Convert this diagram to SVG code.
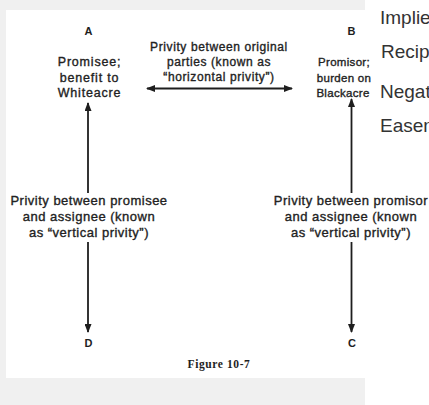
<svg xmlns="http://www.w3.org/2000/svg" width="429" height="405" viewBox="0 0 429 405">
  <style>
    .lbl { font-family: "Liberation Sans", Arial, Helvetica, sans-serif; fill: #222222; stroke: #222222; stroke-width: 0.35; text-anchor: middle; }
    .big { font-size: 12.5px; letter-spacing: 0.8px; }
    .mid { font-size: 12px; letter-spacing: 0.6px; }
    .vert { font-size: 13px; letter-spacing: 0.5px; }
    .small { font-size: 11.5px; letter-spacing: 0.3px; }
    .letter { font-family: "Liberation Sans", Arial, sans-serif; font-weight: bold; font-size: 11px; fill: #1e1e1e; text-anchor: middle; }
    .cap { font-family: "Liberation Serif", "Times New Roman", serif; font-weight: bold; font-size: 11.5px; letter-spacing: 0.6px; fill: #1e1e1e; text-anchor: middle; }
    .conn { stroke: #1e1e1e; stroke-width: 1.8; fill: none; }
    .side { font-family: "Liberation Sans", Arial, Helvetica, sans-serif; font-size: 19px; fill: #333333; }
  </style>
  <defs>
    <marker id="ah" markerUnits="userSpaceOnUse" markerWidth="9" markerHeight="7" refX="8" refY="3.5" orient="auto-start-reverse">
      <path d="M0,0 L9,3.5 L0,7 z" fill="#1e1e1e"/>
    </marker>
  </defs>

  <rect x="0" y="0" width="365" height="405" fill="#f0f0f0"/>
  <rect x="6" y="10" width="359" height="368" fill="#ffffff"/>

  <g id="connectors">
    <line class="conn" x1="147" y1="88.5" x2="292" y2="88.5" marker-start="url(#ah)" marker-end="url(#ah)"/>
    <line class="conn" x1="88" y1="193" x2="88" y2="103" marker-end="url(#ah)"/>
    <line class="conn" x1="88" y1="242" x2="88" y2="332" marker-end="url(#ah)"/>
    <line class="conn" x1="351.5" y1="193" x2="351.5" y2="99" marker-end="url(#ah)"/>
    <line class="conn" x1="351.5" y1="242" x2="351.5" y2="332" marker-end="url(#ah)"/>
    <text class="lbl mid" x="219" y="51">Privity between original</text>
    <text class="lbl mid" x="219" y="66">parties (known as</text>
    <text class="lbl mid" x="219" y="81">“horizontal privity”)</text>
    <text class="lbl vert" x="89" y="204.5">Privity between promisee</text>
    <text class="lbl vert" x="89" y="221">and assignee (known</text>
    <text class="lbl vert" x="89" y="237">as “vertical privity”)</text>
    <text class="lbl vert" x="351" y="204.5">Privity between promisor</text>
    <text class="lbl vert" x="351" y="221">and assignee (known</text>
    <text class="lbl vert" x="351" y="237">as “vertical privity”)</text>
  </g>

  <g id="node-A">
    <text class="letter" x="88.5" y="35">A</text>
    <text class="lbl big" x="89.5" y="66">Promisee;</text>
    <text class="lbl big" x="89.5" y="81.5">benefit to</text>
    <text class="lbl big" x="89.5" y="97">Whiteacre</text>
  </g>

  <g id="node-B">
    <text class="letter" x="351.5" y="35">B</text>
    <text class="lbl small" x="344" y="66">Promisor;</text>
    <text class="lbl small" x="344" y="81.5">burden on</text>
    <text class="lbl small" x="343" y="97">Blackacre</text>
  </g>

  <g id="node-C">
    <text class="letter" x="352" y="347">C</text>
  </g>

  <g id="node-D">
    <text class="letter" x="88.5" y="346.5">D</text>
  </g>

  <text class="cap" x="219" y="368">Figure 10-7</text>

  <g id="side-list">
    <text class="side" x="380" y="23.5">Implied</text>
    <text class="side" x="381" y="57.5">Reciprocal</text>
    <text class="side" x="380" y="97.5">Negative</text>
    <text class="side" x="380" y="131.5">Easement</text>
  </g>
</svg>
